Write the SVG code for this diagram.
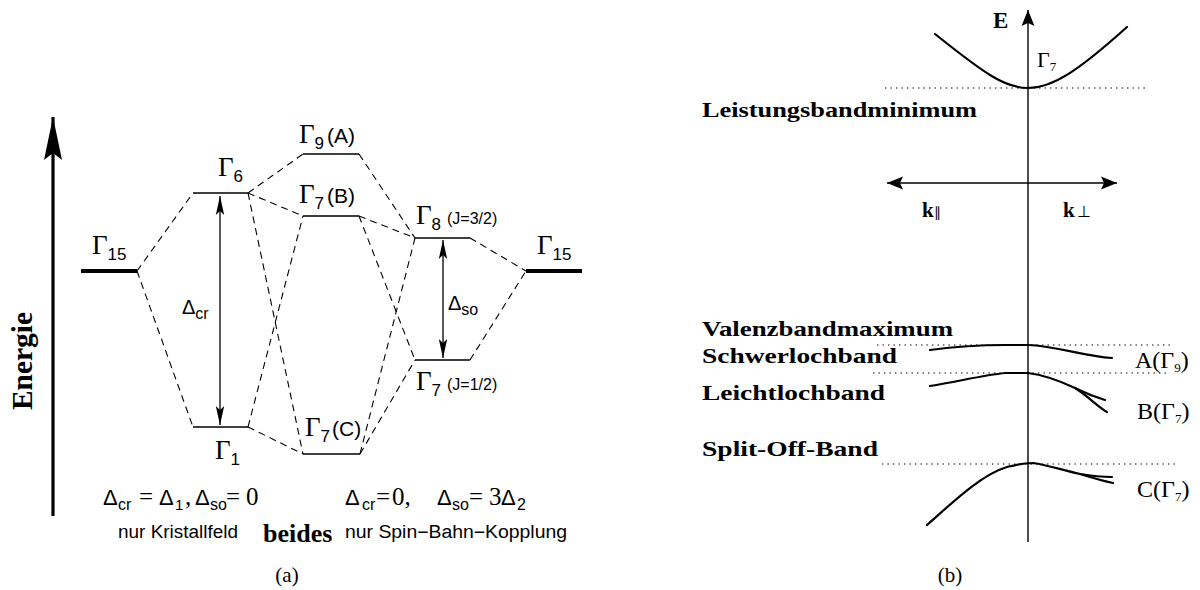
<svg xmlns="http://www.w3.org/2000/svg" width="1200" height="590" viewBox="0 0 1200 590">
  <style>
    .lvl { stroke: #000; stroke-width: 1.6; fill: none; }
    .lvlb { stroke: #000; stroke-width: 4; fill: none; }
    .dash { stroke: #000; stroke-width: 1.1; stroke-dasharray: 7 5; fill: none; }
    .dot { stroke: #000; stroke-width: 1.2; stroke-dasharray: 1.4 4.1; fill: none; }
    .band { stroke: #000; stroke-width: 2.2; fill: none; stroke-linecap: round; }
    .ax { stroke: #000; stroke-width: 1.4; fill: none; }
    .g { font-family: "Liberation Serif", serif; font-size: 27px; }
    .sub { font-family: "Liberation Sans", sans-serif; font-size: 17px; }
    .sans { font-family: "Liberation Sans", sans-serif; }
    .ser { font-family: "Liberation Serif", serif; }
    .bold { font-family: "Liberation Serif", serif; font-weight: bold; }
    text { fill: #000; }
  </style>
  <defs>
    <marker id="ahThin" markerUnits="userSpaceOnUse" markerWidth="24" markerHeight="12" viewBox="-20 -6 22 12" refX="0" refY="0" orient="auto-start-reverse">
      <path d="M0,0 L-19,-4.2 L-15,0 L-19,4.2 Z" fill="#000"/>
    </marker>
    <marker id="ahAx" markerUnits="userSpaceOnUse" markerWidth="20" markerHeight="16" viewBox="-18 -8 20 16" refX="0" refY="0" orient="auto-start-reverse">
      <path d="M0,0 L-16,-6.5 L-13,0 L-16,6.5 Z" fill="#000"/>
    </marker>
    <marker id="ahBig" markerUnits="userSpaceOnUse" markerWidth="48" markerHeight="22" viewBox="-46 -11 48 22" refX="0" refY="0" orient="auto">
      <path d="M0,0 L-43,-9 L-36,0 L-43,9 Z" fill="#000"/>
    </marker>
  </defs>

  <!-- (a) energy axis -->
  <g id="energy-axis">
    <line x1="53" y1="516" x2="53" y2="117" stroke="#000" stroke-width="3.2" marker-end="url(#ahBig)"/>
    <text class="bold" font-size="30" text-anchor="middle" textLength="98" lengthAdjust="spacingAndGlyphs" transform="translate(32,361) rotate(-90)">Energie</text>
  </g>

  <!-- (a) connectors between levels -->
  <g id="connectors">
    <line class="dash" x1="137" y1="271" x2="193" y2="193"/>
    <line class="dash" x1="137" y1="271" x2="193" y2="427"/>
    <line class="dash" x1="248" y1="193" x2="303" y2="154"/>
    <line class="dash" x1="248" y1="193" x2="303" y2="216"/>
    <line class="dash" x1="248" y1="193" x2="303" y2="454"/>
    <line class="dash" x1="248" y1="427" x2="303" y2="216"/>
    <line class="dash" x1="248" y1="427" x2="303" y2="454"/>
    <line class="dash" x1="359" y1="154" x2="415" y2="238"/>
    <line class="dash" x1="359" y1="216" x2="415" y2="238"/>
    <line class="dash" x1="359" y1="216" x2="415" y2="360"/>
    <line class="dash" x1="360" y1="454" x2="415" y2="238"/>
    <line class="dash" x1="360" y1="454" x2="415" y2="360"/>
    <line class="dash" x1="470" y1="238" x2="526" y2="271"/>
    <line class="dash" x1="470" y1="360" x2="526" y2="271"/>
  </g>

  <!-- (a) levels -->
  <g id="g15-left">
    <line class="lvlb" x1="81" y1="271" x2="137" y2="271"/>
    <text class="g" x="92" y="254">Γ<tspan class="sub" dy="6">15</tspan></text>
  </g>
  <g id="g6">
    <line class="lvl" x1="193" y1="193" x2="248" y2="193" stroke-width="2"/>
    <text class="g" x="218" y="176">Γ<tspan class="sub" dy="6">6</tspan></text>
  </g>
  <g id="g1">
    <line class="lvl" x1="193" y1="427" x2="248" y2="427"/>
    <text class="g" x="215" y="459">Γ<tspan class="sub" dy="6">1</tspan></text>
  </g>
  <g id="delta-cr">
    <line x1="220" y1="425" x2="220" y2="196" stroke="#000" stroke-width="1.3" marker-start="url(#ahThin)" marker-end="url(#ahThin)"/>
    <text class="sans" font-size="20" x="182" y="314">Δ<tspan font-size="16" dy="5">cr</tspan></text>
  </g>
  <g id="g9-a">
    <line class="lvl" x1="303" y1="154" x2="359" y2="154"/>
    <text class="g" x="299" y="143">Γ<tspan class="sub" dy="6">9</tspan><tspan class="sans" font-size="21" dy="-6" x="327">(A)</tspan></text>
  </g>
  <g id="g7-b">
    <line class="lvl" x1="303" y1="216" x2="359" y2="216"/>
    <text class="g" x="299" y="203">Γ<tspan class="sub" dy="6">7</tspan><tspan class="sans" font-size="21" dy="-6" x="327">(B)</tspan></text>
  </g>
  <g id="g7-c">
    <line class="lvl" x1="303" y1="454" x2="360" y2="454"/>
    <text class="g" x="305" y="436">Γ<tspan class="sub" dy="6">7</tspan><tspan class="sans" font-size="21" dy="-6" x="332">(C)</tspan></text>
  </g>
  <g id="g8-j32">
    <line class="lvl" x1="415" y1="238" x2="470" y2="238"/>
    <text class="g" x="416" y="224">Γ<tspan class="sub" dy="6">8</tspan><tspan class="sans" font-size="16" dy="-6" x="447">(J=3/2)</tspan></text>
  </g>
  <g id="g7-j12">
    <line class="lvl" x1="415" y1="360" x2="470" y2="360"/>
    <text class="g" x="416" y="390">Γ<tspan class="sub" dy="6">7</tspan><tspan class="sans" font-size="16" dy="-6" x="447">(J=1/2)</tspan></text>
  </g>
  <g id="delta-so">
    <line x1="443" y1="240" x2="443" y2="358" stroke="#000" stroke-width="1.3" marker-start="url(#ahThin)" marker-end="url(#ahThin)"/>
    <text class="sans" font-size="20" x="448" y="310">Δ<tspan font-size="16" dy="5">so</tspan></text>
  </g>
  <g id="g15-right">
    <line class="lvlb" x1="526" y1="271" x2="582" y2="271"/>
    <text class="g" x="537" y="254">Γ<tspan class="sub" dy="6">15</tspan></text>
  </g>

  <!-- (a) captions -->
  <g id="caption-crystal">
    <text y="505">
      <tspan class="sans" font-size="22" x="103">Δ</tspan><tspan class="sans" font-size="16" x="118" y="510">cr</tspan><tspan class="ser" font-size="25" x="139" y="505">=</tspan><tspan class="sans" font-size="22" x="159">Δ</tspan><tspan class="sans" font-size="15" x="175" y="510">1</tspan><tspan class="ser" font-size="25" x="185" y="505">,</tspan><tspan class="sans" font-size="22" x="195">Δ</tspan><tspan class="sans" font-size="16" x="210" y="510">so</tspan><tspan class="ser" font-size="25" x="226" y="505">=</tspan><tspan class="ser" font-size="25" x="246">0</tspan>
    </text>
    <text class="sans" font-size="18" x="118" y="538" textLength="120" lengthAdjust="spacingAndGlyphs">nur Kristallfeld</text>
  </g>
  <g id="caption-both">
    <text class="bold" font-size="26" x="263" y="542">beides</text>
  </g>
  <g id="caption-spin">
    <text y="505">
      <tspan class="sans" font-size="22" x="345">Δ</tspan><tspan class="sans" font-size="16" x="362" y="510">cr</tspan><tspan class="ser" font-size="25" x="376" y="505">=</tspan><tspan class="ser" font-size="25" x="392">0,</tspan><tspan class="sans" font-size="22" x="437">Δ</tspan><tspan class="sans" font-size="16" x="452" y="510">so</tspan><tspan class="ser" font-size="25" x="469" y="505">=</tspan><tspan class="ser" font-size="25" x="489">3</tspan><tspan class="sans" font-size="22" x="501">Δ</tspan><tspan class="sans" font-size="16" x="517" y="510">2</tspan>
    </text>
    <text class="sans" font-size="18" x="345" y="538" textLength="222" lengthAdjust="spacingAndGlyphs">nur Spin−Bahn−Kopplung</text>
  </g>
  <text class="ser" font-size="21" x="287" y="582" text-anchor="middle">(a)</text>

  <!-- (b) band structure -->
  <g id="axes">
    <line class="ax" x1="1028" y1="542" x2="1028" y2="10" marker-end="url(#ahAx)"/>
    <line class="ax" x1="887" y1="183" x2="1117" y2="183" stroke-width="1.6" marker-start="url(#ahAx)" marker-end="url(#ahAx)"/>
    <text class="bold" font-size="23" x="993" y="28">E</text>
    <text class="bold" font-size="21" x="922" y="217">k<tspan class="ser" font-weight="normal" font-size="14">∥</tspan></text>
    <text class="bold" font-size="21" x="1063" y="217">k<tspan class="ser" font-weight="normal" font-size="16" dx="2">⊥</tspan></text>
  </g>

  <g id="conduction-band">
    <line class="dot" x1="885" y1="88" x2="1148" y2="88"/>
    <path class="band" d="M935,34 C985,74 1005,88 1028,88 C1052,88 1077,72 1127,27"/>
    <text class="ser" font-size="22" x="1037" y="67">Γ<tspan font-size="13" dy="4">7</tspan></text>
    <text class="bold" font-size="22" x="702" y="117" textLength="275" lengthAdjust="spacingAndGlyphs">Leistungsbandminimum</text>
  </g>

  <g id="heavy-hole">
    <text class="bold" font-size="22" x="702" y="336" textLength="251" lengthAdjust="spacingAndGlyphs">Valenzbandmaximum</text>
    <line class="dot" x1="877" y1="345" x2="1170" y2="345"/>
    <path class="band" d="M930,350 C960,346 985,345 1005,345 L1028,345 C1058,346 1082,356 1112,358"/>
    <text class="bold" font-size="22" x="702" y="363" textLength="195" lengthAdjust="spacingAndGlyphs">Schwerlochband</text>
    <text class="ser" font-size="24" x="1135" y="368">A(Γ<tspan font-size="13" dy="4">9</tspan><tspan dy="-4">)</tspan></text>
  </g>

  <g id="light-hole">
    <line class="dot" x1="873" y1="373" x2="1167" y2="373"/>
    <path class="band" d="M930,386 C960,381 985,375 1005,373 L1028,373 C1045,375 1060,381 1075,388 C1085,393 1095,397 1105,400"/>
    <path class="band" d="M1075,388 C1088,396 1098,407 1107,412"/>
    <text class="bold" font-size="22" x="702" y="400" textLength="183" lengthAdjust="spacingAndGlyphs">Leichtlochband</text>
    <text class="ser" font-size="24" x="1137" y="419">B(Γ<tspan font-size="13" dy="4">7</tspan><tspan dy="-4">)</tspan></text>
  </g>

  <g id="split-off">
    <text class="bold" font-size="22" x="702" y="456" textLength="176" lengthAdjust="spacingAndGlyphs">Split-Off-Band</text>
    <line class="dot" x1="882" y1="464" x2="1177" y2="464"/>
    <path class="band" d="M927,525 C950,505 980,475 1007,467 C1015,465 1022,463 1033,463 C1048,465 1062,470 1080,474 C1092,476 1102,477 1112,477"/>
    <path class="band" d="M1080,474 C1093,478 1103,481 1113,483"/>
    <text class="ser" font-size="24" x="1137" y="497">C(Γ<tspan font-size="13" dy="4">7</tspan><tspan dy="-4">)</tspan></text>
  </g>

  <text class="ser" font-size="21" x="950" y="582" text-anchor="middle">(b)</text>
</svg>
